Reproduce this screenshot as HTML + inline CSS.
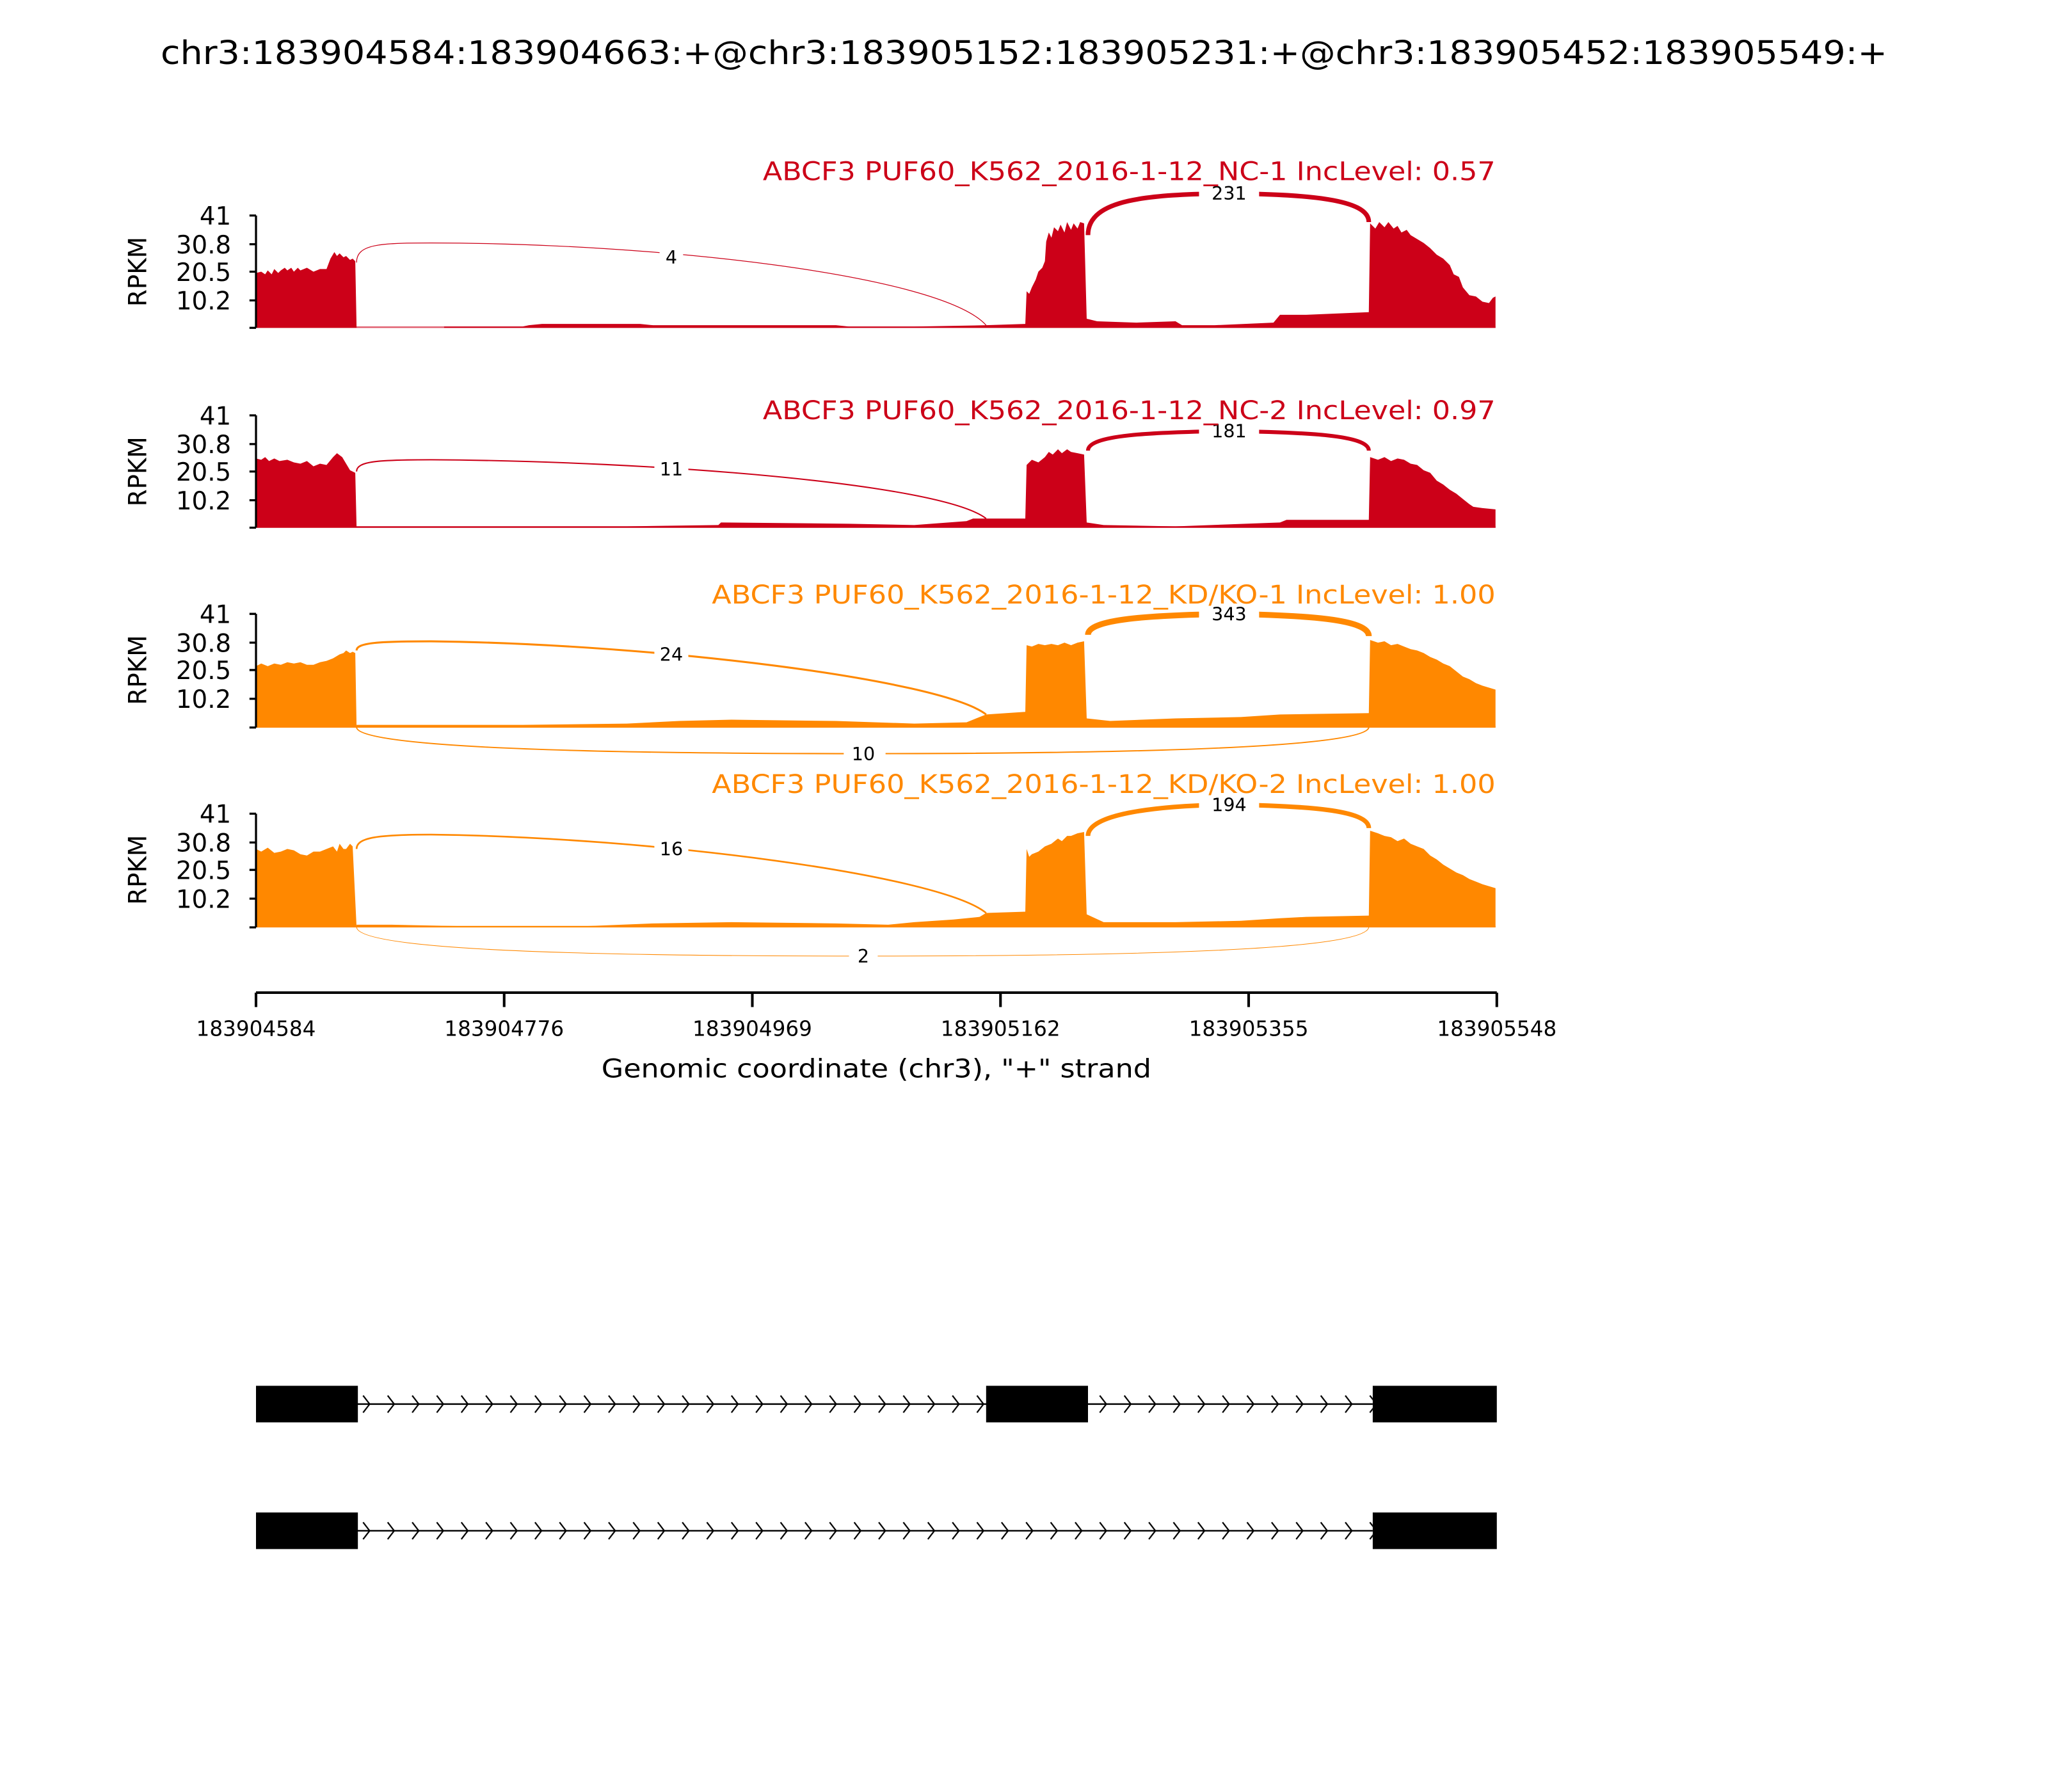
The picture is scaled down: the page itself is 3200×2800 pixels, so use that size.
<!DOCTYPE html>
<html><head><meta charset="utf-8"><style>html,body{margin:0;padding:0;background:#fff}svg{display:block}</style></head>
<body>
<svg xmlns="http://www.w3.org/2000/svg" width="3200" height="2800" viewBox="0 0 1568 1372" font-family="DejaVu Sans, Liberation Sans, sans-serif">
<defs>
<pattern id="chev" x="273" y="0" width="18.8" height="1372" patternUnits="userSpaceOnUse">
<path d="M5,1068.5 L10,1075 L5,1081.5" stroke="#000" stroke-width="1.1" fill="none"/>
</pattern>
<pattern id="chev2" x="273" y="0" width="18.8" height="1372" patternUnits="userSpaceOnUse">
<path d="M5,1165.5 L10,1172 L5,1178.5" stroke="#000" stroke-width="1.1" fill="none"/>
</pattern>
</defs>
<rect width="1568" height="1372" fill="#fff"/>
<text x="784" y="49" font-size="25" text-anchor="middle" textLength="1322" lengthAdjust="spacingAndGlyphs">chr3:183904584:183904663:+@chr3:183905152:183905231:+@chr3:183905452:183905549:+</text>

<!-- Panel 1 -->
<g>
<line x1="196" y1="250.5" x2="1145" y2="250.5" stroke="#E06070" stroke-width="1.2"/>
<polygon fill="#CC0018" points="196,251 196,209 200,208 203,210 205,207 208,210 210,206 213,209 215,207 218,205 220,207 223,205 225,208 228,205 230,207 235,205 240,208 245,206 250,206 253,198 256,193 258,196 260,194 263,197 265,196 268,199 270,198 272,200 273,251 340,251 340,250 400,250 405,249 415,248 490,248 500,249 640,249 650,250 700,250 755,249 785,248 786,223 788,225 790,220 793,214 795,208 798,205 800,200 801,185 803,178 805,182 807,174 810,177 812,172 815,178 817,170 820,176 822,171 825,175 827,170 830,171 832,244 840,246 870,247 900,246 905,249 930,249 975,247 980,241 1000,241 1048,239 1049,171 1053,175 1056,170 1060,174 1063,170 1067,175 1070,173 1073,178 1077,176 1080,180 1085,183 1090,186 1095,190 1100,195 1105,198 1110,203 1113,210 1117,212 1120,220 1125,226 1130,227 1135,231 1140,232 1143,228 1145,227 1145,251"/>
<path d="M273,201 C273,187 290,186 330,186 C500,186 720,210 755,249" stroke="#CC0018" stroke-width="0.6" fill="none"/>
<path d="M833,180 C833,152 880,149 940,148 C1000,149 1048,152 1048,170" stroke="#CC0018" stroke-width="3.5" fill="none"/>
<rect x="505" y="190" width="18" height="14" fill="#fff"/><text x="514" y="202" font-size="14" text-anchor="middle">4</text>
<rect x="918" y="141" width="46" height="14" fill="#fff"/><text x="941" y="153" font-size="14" text-anchor="middle">231</text>
<text x="1145" y="138" font-size="19.5" fill="#CC0018" text-anchor="end" textLength="561" lengthAdjust="spacingAndGlyphs">ABCF3 PUF60_K562_2016-1-12_NC-1 IncLevel: 0.57</text>
</g>
<!-- Panel 2 -->
<g>
<line x1="196" y1="403.5" x2="1145" y2="403.5" stroke="#CC0018" stroke-width="1.2"/>
<polygon fill="#CC0018" points="196,404 196,351 200,352 203,350 206,353 210,351 214,353 220,352 225,354 230,355 235,353 240,357 245,355 250,356 255,350 258,347 262,350 265,355 268,360 272,362 273,404 380,404 380,403 480,403 550,402 552,400 650,401 700,402 740,399 745,397 785,397 786,356 790,352 795,354 800,350 803,346 806,348 810,344 813,347 817,344 820,346 825,347 830,348 832,400 845,402 900,403 980,400 985,398 1048,398 1049,350 1055,352 1060,350 1065,353 1070,351 1075,352 1080,355 1085,356 1090,360 1095,362 1100,368 1105,371 1110,375 1115,378 1120,382 1125,386 1128,388 1135,389 1145,390 1145,404"/>
<path d="M273,361 C273,353 290,352 330,352 C500,353 720,370 755,397" stroke="#CC0018" stroke-width="1" fill="none"/>
<path d="M833,345 C833,333 880,331 940,330 C1000,331 1048,333 1048,345" stroke="#CC0018" stroke-width="3" fill="none"/>
<rect x="501" y="352" width="26" height="14" fill="#fff"/><text x="514" y="364" font-size="14" text-anchor="middle">11</text>
<rect x="918" y="323" width="46" height="14" fill="#fff"/><text x="941" y="335" font-size="14" text-anchor="middle">181</text>
<text x="1145" y="321" font-size="19.5" fill="#CC0018" text-anchor="end" textLength="561" lengthAdjust="spacingAndGlyphs">ABCF3 PUF60_K562_2016-1-12_NC-2 IncLevel: 0.97</text>
</g>
<!-- Panel 3 -->
<g>
<line x1="196" y1="556.5" x2="1145" y2="556.5" stroke="#FF8800" stroke-width="1.2"/>
<polygon fill="#FF8800" points="196,557 196,510 200,508 205,510 210,508 215,509 220,507 225,508 230,507 235,509 240,509 245,507 250,506 255,504 260,501 263,500 265,498 268,500 270,499 272,500 273,557 273,555 400,555 480,554 520,552 560,551 640,552 700,554 740,553 755,547 785,545 786,494 790,495 795,493 800,494 805,493 810,494 815,492 820,494 825,492 830,491 832,550 850,552 900,550 950,549 980,547 1048,546 1049,490 1055,492 1060,491 1065,494 1070,493 1075,495 1080,497 1085,498 1090,500 1095,503 1100,505 1105,508 1110,510 1115,514 1120,518 1125,520 1130,523 1135,525 1145,528 1145,557"/>
<path d="M273,498 C273,492 290,491 330,491 C500,493 720,520 755,547" stroke="#FF8800" stroke-width="1.5" fill="none"/>
<path d="M833,486 C833,474 880,471 940,470 C1000,471 1048,474 1048,487" stroke="#FF8800" stroke-width="4.5" fill="none"/>
<path d="M273,557 C275,570 400,577 660,577 C920,577 1045,570 1048,557" stroke="#FF8800" stroke-width="1" fill="none"/>
<rect x="501" y="494" width="26" height="14" fill="#fff"/><text x="514" y="506" font-size="14" text-anchor="middle">24</text>
<rect x="918" y="463" width="46" height="14" fill="#fff"/><text x="941" y="475" font-size="14" text-anchor="middle">343</text>
<rect x="646" y="570" width="32" height="14" fill="#fff"/><text x="661" y="582" font-size="14" text-anchor="middle">10</text>
<text x="1145" y="462" font-size="19.5" fill="#FF8800" text-anchor="end" textLength="600" lengthAdjust="spacingAndGlyphs">ABCF3 PUF60_K562_2016-1-12_KD/KO-1 IncLevel: 1.00</text>
</g>
<!-- Panel 4 -->
<g>
<line x1="196" y1="709.5" x2="1145" y2="709.5" stroke="#FF8800" stroke-width="1.2"/>
<polygon fill="#FF8800" points="196,710 196,650 200,652 205,649 210,653 215,652 220,650 225,651 230,654 235,655 240,652 245,652 250,650 255,648 258,652 260,646 263,650 265,650 268,646 270,648 273,710 273,708 300,708 350,709 450,709 500,707 560,706 640,707 680,708 700,706 730,704 750,702 755,699 785,698 786,650 788,656 790,654 795,652 800,648 805,646 810,642 813,644 817,640 820,640 825,638 830,637 832,700 845,706 900,706 950,705 980,703 1000,702 1048,701 1049,636 1055,638 1060,640 1065,641 1070,644 1075,642 1080,646 1085,648 1090,650 1095,655 1100,658 1105,662 1110,665 1115,668 1120,670 1125,673 1130,675 1135,677 1145,680 1145,710"/>
<path d="M273,650 C273,641 290,639 330,639 C500,641 720,670 755,699" stroke="#FF8800" stroke-width="1.3" fill="none"/>
<path d="M833,640 C833,624 880,617 940,616 C1000,617 1048,620 1048,634" stroke="#FF8800" stroke-width="3.5" fill="none"/>
<path d="M273,710 C275,725 400,732 660,732 C920,732 1045,725 1048,710" stroke="#FF8800" stroke-width="0.5" fill="none"/>
<rect x="501" y="643" width="26" height="14" fill="#fff"/><text x="514" y="655" font-size="14" text-anchor="middle">16</text>
<rect x="918" y="609" width="46" height="14" fill="#fff"/><text x="941" y="621" font-size="14" text-anchor="middle">194</text>
<rect x="650" y="725" width="22" height="14" fill="#fff"/><text x="661" y="737" font-size="14" text-anchor="middle">2</text>
<text x="1145" y="607" font-size="19.5" fill="#FF8800" text-anchor="end" textLength="600" lengthAdjust="spacingAndGlyphs">ABCF3 PUF60_K562_2016-1-12_KD/KO-2 IncLevel: 1.00</text>
</g>

<!-- Y axes -->
<g stroke="#000" stroke-width="1.6" fill="none">
<path d="M196,165 V251 M191,165 H196 M191,187 H196 M191,208 H196 M191,230 H196 M191,251 H196"/>
<path d="M196,318 V404 M191,318 H196 M191,340 H196 M191,361 H196 M191,383 H196 M191,404 H196"/>
<path d="M196,470 V557 M191,470 H196 M191,492 H196 M191,513 H196 M191,535 H196 M191,557 H196"/>
<path d="M196,623 V710 M191,623 H196 M191,645 H196 M191,666 H196 M191,688 H196 M191,710 H196"/>
</g>
<g font-size="19" text-anchor="end">
<text x="177" y="172">41</text><text x="177" y="194">30.8</text><text x="177" y="215">20.5</text><text x="177" y="237">10.2</text>
<text x="177" y="325">41</text><text x="177" y="347">30.8</text><text x="177" y="368">20.5</text><text x="177" y="390">10.2</text>
<text x="177" y="477">41</text><text x="177" y="499">30.8</text><text x="177" y="520">20.5</text><text x="177" y="542">10.2</text>
<text x="177" y="630">41</text><text x="177" y="652">30.8</text><text x="177" y="673">20.5</text><text x="177" y="695">10.2</text>
</g>
<g font-size="19" text-anchor="middle">
<text transform="translate(112,208) rotate(-90)">RPKM</text>
<text transform="translate(112,361) rotate(-90)">RPKM</text>
<text transform="translate(112,513) rotate(-90)">RPKM</text>
<text transform="translate(112,666) rotate(-90)">RPKM</text>
</g>

<!-- X axis -->
<path d="M196,760 H1146 M196,760 V771 M386,760 V771 M576,760 V771 M766,760 V771 M956,760 V771 M1146,760 V771" stroke="#000" stroke-width="2" fill="none"/>
<g font-size="16" text-anchor="middle">
<text x="196" y="793">183904584</text><text x="386" y="793">183904776</text><text x="576" y="793">183904969</text>
<text x="766" y="793">183905162</text><text x="956" y="793">183905355</text><text x="1146" y="793">183905548</text>
</g>
<text x="671" y="825" font-size="19.5" text-anchor="middle" textLength="421" lengthAdjust="spacingAndGlyphs">Genomic coordinate (chr3), "+" strand</text>

<!-- Gene tracks -->
<line x1="273" y1="1075" x2="1051" y2="1075" stroke="#000" stroke-width="1.2"/>
<rect x="273" y="1066" width="482" height="18" fill="url(#chev)"/>
<rect x="833" y="1066" width="218" height="18" fill="url(#chev)"/>
<rect x="196" y="1061" width="78" height="28" fill="#000"/>
<rect x="755" y="1061" width="78" height="28" fill="#000"/>
<rect x="1051" y="1061" width="95" height="28" fill="#000"/>

<line x1="273" y1="1172" x2="1051" y2="1172" stroke="#000" stroke-width="1.2"/>
<rect x="273" y="1163" width="778" height="18" fill="url(#chev2)"/>
<rect x="196" y="1158" width="78" height="28" fill="#000"/>
<rect x="1051" y="1158" width="95" height="28" fill="#000"/>
</svg>
</body></html>
